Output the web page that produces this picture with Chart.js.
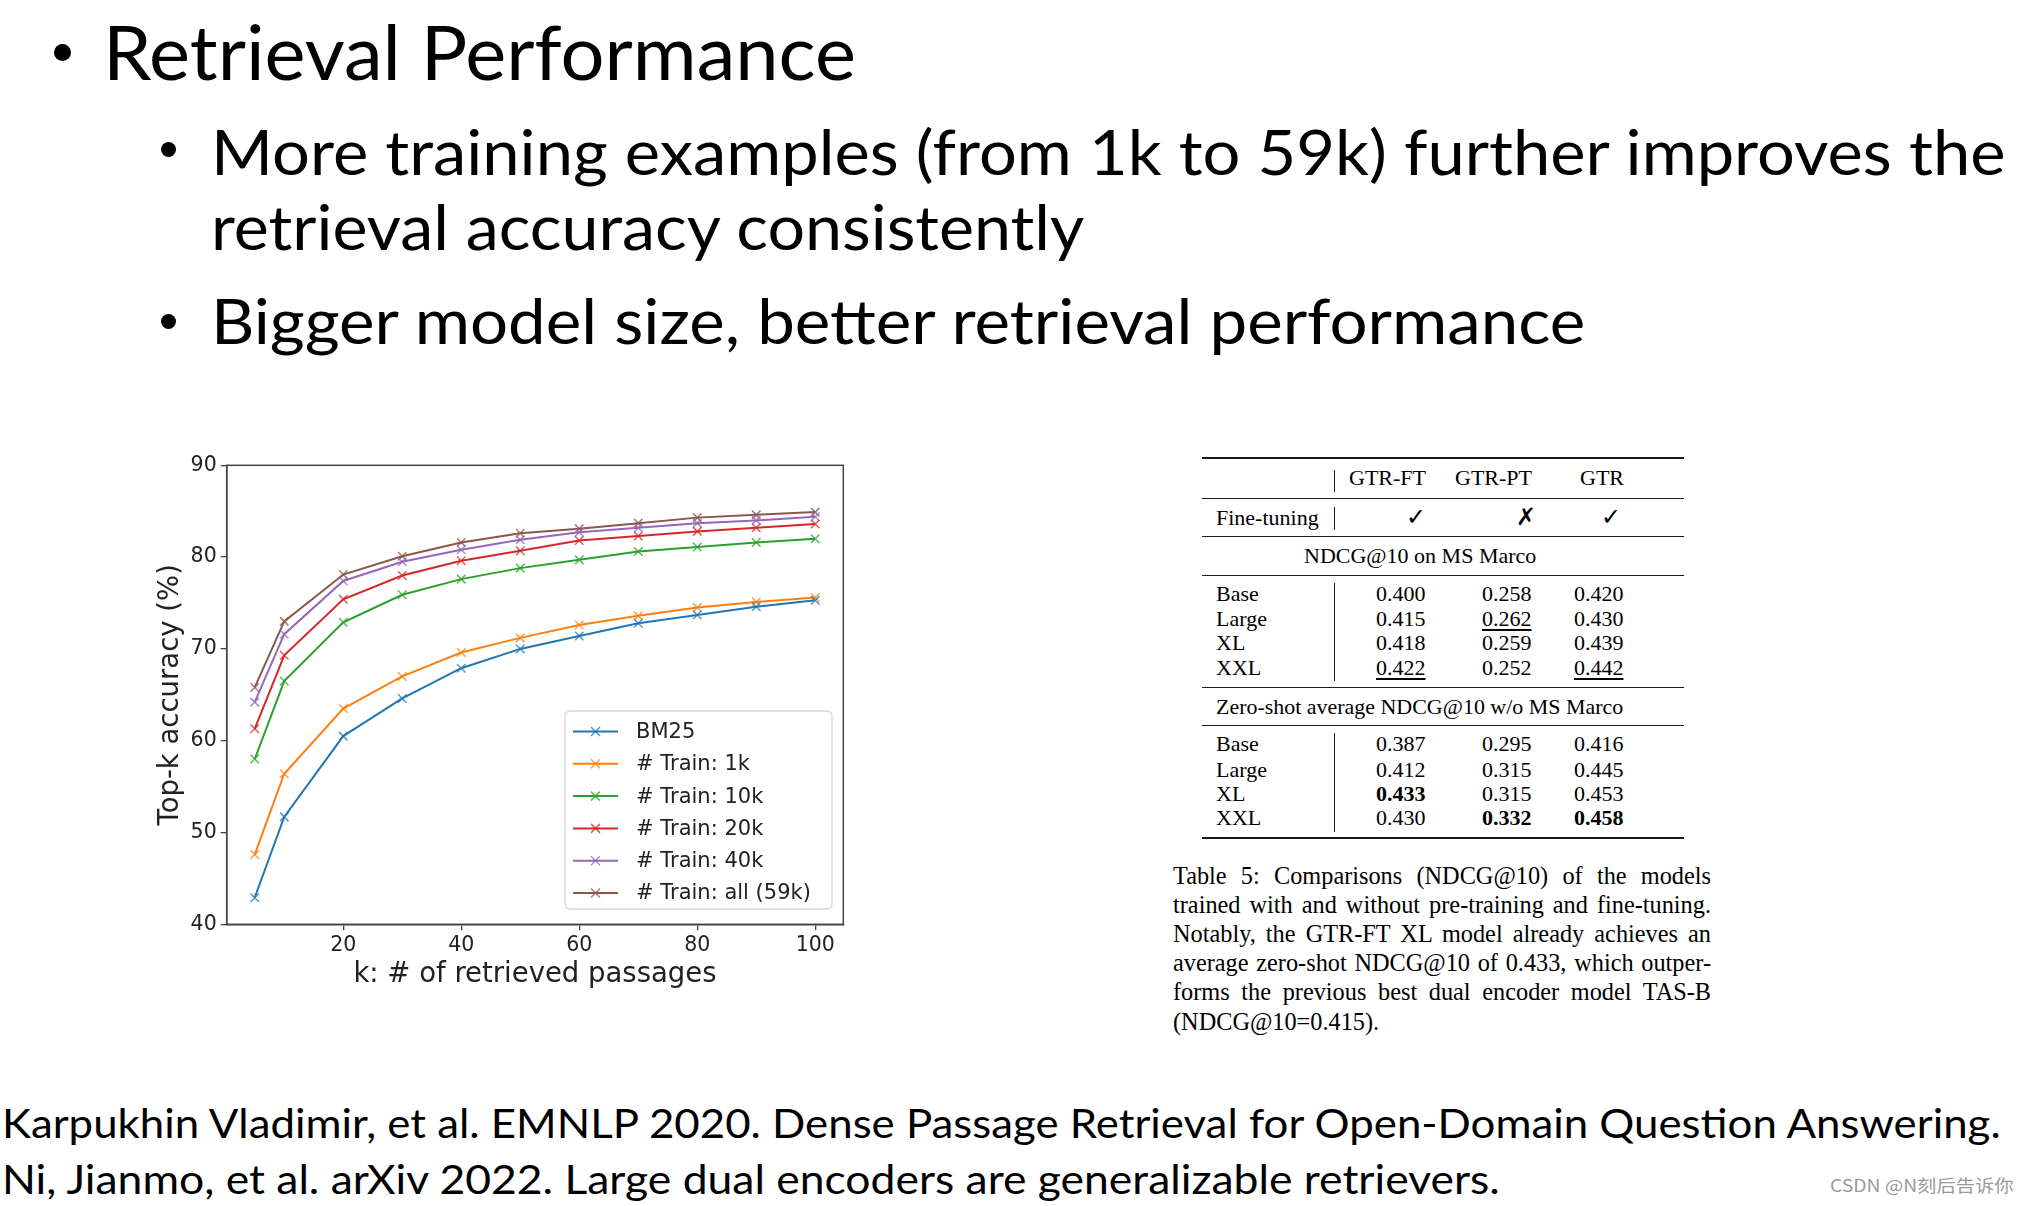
<!DOCTYPE html>
<html>
<head>
<meta charset="utf-8">
<script src="https://cdn.jsdelivr.net/npm/chart.js@4.4.1/dist/chart.umd.min.js"></script>
<style>
  html, body { margin: 0; padding: 0; background: #fff; }
  body { width: 2028px; height: 1206px; position: relative; overflow: hidden; }
  .t { position: absolute; white-space: nowrap; color: #000; transform-origin: 0 0; line-height: 1.2; }
  .m { display: inline-block; width: 0; height: 0; }
  .rule { position: absolute; background: #1a1a1a; }
  .dot { position: absolute; border-radius: 50%; background: #000; }
  #chartBox { position: absolute; left: 140px; top: 440px; width: 720px; height: 560px; }
</style>
</head>
<body>
<div id="chartBox"><canvas id="topk"></canvas></div>
<script>
// chart data
var kValues = [5, 10, 20, 30, 40, 50, 60, 70, 80, 90, 100];
var xTicks = [20, 40, 60, 80, 100];
var seriesNames = ['BM25', '# Train: 1k', '# Train: 10k', '# Train: 20k', '# Train: 40k', '# Train: all (59k)'];
var bm25     = [42.9, 51.7, 60.5, 64.6, 67.9, 70.0, 71.4, 72.8, 73.7, 74.6, 75.3];
var train1k  = [47.6, 56.4, 63.5, 67.0, 69.6, 71.2, 72.6, 73.6, 74.5, 75.1, 75.6];
var train10k = [58.0, 66.5, 72.9, 75.9, 77.6, 78.8, 79.7, 80.6, 81.1, 81.6, 82.0];
var train20k = [61.3, 69.3, 75.4, 78.0, 79.6, 80.7, 81.8, 82.3, 82.8, 83.2, 83.6];
var train40k = [64.2, 71.6, 77.4, 79.5, 80.8, 81.9, 82.7, 83.2, 83.7, 84.0, 84.4];
var trainAll = [65.8, 73.0, 78.1, 80.1, 81.6, 82.6, 83.1, 83.7, 84.3, 84.6, 84.9];
var colors = ['31,119,180', '255,127,14', '44,160,44', '214,39,40', '148,103,189', '140,86,75'];

// table data
var tableCols = ['GTR-FT', 'GTR-PT', 'GTR'];
var sizes = ['Base', 'Large', 'XL', 'XXL'];
var msMarco = [['0.400', '0.258', '0.420'], ['0.415', '0.262', '0.430'], ['0.418', '0.259', '0.439'], ['0.422', '0.252', '0.442']];
var zeroShot = [['0.387', '0.295', '0.416'], ['0.412', '0.315', '0.445'], ['0.433', '0.315', '0.453'], ['0.430', '0.332', '0.458']];
var underlined = ['1-1-1', '1-3-0', '1-3-2'];   // block-row-col
var bolded = ['2-2-0', '2-3-1', '2-3-2'];

var SANS = 'Lato, "Open Sans", sans-serif';
var SERIF = '"Liberation Serif", "DejaVu Serif", serif';

// put a line of text with its baseline at `base`
function put(str, x, base, o) {
  var d = document.createElement('div');
  d.className = 't';
  d.style.font = (o.bold ? '700 ' : '400 ') + o.size + 'px ' + o.font;
  if (o.color) d.style.color = o.color;
  var m = document.createElement('span');
  m.className = 'm';
  d.appendChild(m);
  var s = document.createElement('span');
  s.textContent = str;
  if (o.underline) { s.style.textDecoration = 'underline'; s.style.textUnderlineOffset = '3px'; }
  d.appendChild(s);
  document.body.appendChild(d);
  var w = d.offsetWidth;
  var sc = o.fit ? o.fit / w : 1;
  if (o.width) {
    // justified line: stretch the spaces, or squeeze if the line is too long
    if (w > o.width) { sc = o.width / w; d.style.width = w + 'px'; }
    else { d.style.width = o.width + 'px'; }
    d.style.textAlign = 'justify';
    d.style.textAlignLast = 'justify';
    w = o.width / sc;
  }
  var left = x;
  if (o.align === 'right') left = x - w * sc;
  if (o.align === 'center') left = x - w * sc / 2;
  d.style.left = left + 'px';
  d.style.top = (base - m.offsetTop) + 'px';
  if (sc !== 1) d.style.transform = 'scaleX(' + sc + ')';
  return d;
}

function rule(x, y, w, h) {
  var r = document.createElement('div');
  r.className = 'rule';
  r.style.left = x + 'px'; r.style.top = y + 'px';
  r.style.width = w + 'px'; r.style.height = h + 'px';
  document.body.appendChild(r);
}

function dot(cx, cy, dia) {
  var r = document.createElement('div');
  r.className = 'dot';
  r.style.left = (cx - dia / 2) + 'px'; r.style.top = (cy - dia / 2) + 'px';
  r.style.width = dia + 'px'; r.style.height = dia + 'px';
  document.body.appendChild(r);
}

// slide text
dot(62, 52, 17);
put('Retrieval Performance', 103, 80, {font: SANS, size: 76, fit: 753});
dot(168, 149, 15);
put('More training examples (from 1k to 59k) further improves the', 211, 175, {font: SANS, size: 62, fit: 1794});
put('retrieval accuracy consistently', 211, 250, {font: SANS, size: 62, fit: 873});
dot(168, 321, 15);
put('Bigger model size, better retrieval performance', 211, 344, {font: SANS, size: 62, fit: 1374});
put('Karpukhin Vladimir, et al. EMNLP 2020. Dense Passage Retrieval for Open-Domain Question Answering.', 2, 1138, {font: SANS, size: 40, fit: 1999});
put('Ni, Jianmo, et al. arXiv 2022. Large dual encoders are generalizable retrievers.', 2, 1194, {font: SANS, size: 40, fit: 1498});
put('CSDN @N刻后告诉你', 1830, 1192, {font: '"Noto Sans CJK SC", sans-serif', size: 17, fit: 184, color: '#9a9a9a'});

// table
var TL = 1202, TW = 482, colRight = [1426, 1532, 1624], fs = 22;
rule(TL, 457, TW, 2.2);
rule(TL, 497.8, TW, 1.2);
rule(TL, 536.2, TW, 1.2);
rule(TL, 574.5, TW, 1.2);
rule(TL, 686.5, TW, 1.2);
rule(TL, 725.2, TW, 1.2);
rule(TL, 836.6, TW, 2.2);
rule(1333.5, 470, 1.2, 22);
rule(1333.5, 507, 1.2, 23);
rule(1333.5, 583, 1.2, 98);
rule(1333.5, 733, 1.2, 99);
tableCols.forEach(function (c, i) { put(c, colRight[i], 485, {font: SERIF, size: fs, align: 'right'}); });
put('Fine-tuning', 1216, 524.5, {font: SERIF, size: fs});
put('✓', 1416, 524.5, {font: SERIF, size: 24, align: 'center'});
put('✗', 1526, 524.5, {font: SERIF, size: 24, align: 'center'});
put('✓', 1611, 524.5, {font: SERIF, size: 24, align: 'center'});
put('NDCG@10 on MS Marco', 1420, 563, {font: SERIF, size: fs, align: 'center'});
put('Zero-shot average NDCG@10 w/o MS Marco', 1216, 714, {font: SERIF, size: fs, fit: 407});
var blockBase = [[601, 626, 650, 675], [751, 776.5, 800.5, 825]];
[msMarco, zeroShot].forEach(function (block, b) {
  block.forEach(function (row, r) {
    put(sizes[r], 1216, blockBase[b][r], {font: SERIF, size: fs});
    row.forEach(function (v, c) {
      var key = (b + 1) + '-' + r + '-' + c;
      put(v, colRight[c], blockBase[b][r], {font: SERIF, size: fs, align: 'right',
        underline: underlined.indexOf(key) >= 0, bold: bolded.indexOf(key) >= 0});
    });
  });
});

// caption
var caption = [
  'Table 5: Comparisons (NDCG@10) of the models',
  'trained with and without pre-training and fine-tuning.',
  'Notably, the GTR-FT XL model already achieves an',
  'average zero-shot NDCG@10 of 0.433, which outper-',
  'forms the previous best dual encoder model TAS-B'
];
caption.forEach(function (line, i) {
  put(line, 1173, 883.5 + i * 29.2, {font: SERIF, size: 24.3, width: 538});
});
put('(NDCG@10=0.415).', 1173, 883.5 + 5 * 29.2, {font: SERIF, size: 24.3});

// chart
var allSeries = [bm25, train1k, train10k, train20k, train40k, trainAll];

var frame = {
  id: 'frame',
  afterDatasetsDraw: function (chart) {
    var a = chart.chartArea, ctx = chart.ctx;
    ctx.save();
    ctx.strokeStyle = '#444';
    ctx.lineWidth = 1.5;
    ctx.strokeRect(a.left, a.top, a.right - a.left, a.bottom - a.top);
    ctx.restore();
  }
};

// matplotlib-like legend in the lower right corner of the plot
var boxLegend = {
  id: 'boxLegend',
  afterDraw: function (chart) {
    var a = chart.chartArea, ctx = chart.ctx;
    var w = 267, h = 198;
    var x0 = a.right - 11.3 - w, y0 = a.bottom - 15.3 - h;
    ctx.save();
    ctx.beginPath();
    ctx.roundRect(x0, y0, w, h, 5);
    ctx.fillStyle = 'rgba(255,255,255,0.85)';
    ctx.fill();
    ctx.strokeStyle = '#d6d6d6';
    ctx.lineWidth = 1.3;
    ctx.stroke();
    ctx.font = '21px "DejaVu Sans"';
    ctx.textBaseline = 'middle';
    chart.data.datasets.forEach(function (ds, i) {
      var y = y0 + 20.5 + i * 32.3;
      ctx.strokeStyle = ds.borderColor;
      ctx.lineWidth = 2;
      ctx.beginPath();
      ctx.moveTo(x0 + 8, y); ctx.lineTo(x0 + 53, y); ctx.stroke();
      var cx = x0 + 30.5, r = 4.5;
      ctx.strokeStyle = ds.pointBorderColor;
      ctx.lineWidth = 1.5;
      ctx.beginPath();
      ctx.moveTo(cx - r, y - r); ctx.lineTo(cx + r, y + r);
      ctx.moveTo(cx - r, y + r); ctx.lineTo(cx + r, y - r);
      ctx.stroke();
      ctx.fillStyle = '#222';
      ctx.fillText(ds.label, x0 + 71, y + 1);
    });
    ctx.restore();
  }
};

var ctx = document.getElementById('topk').getContext('2d');
var topkChart = new Chart(ctx, {
  type: 'line',
  data: {
    labels: kValues,
    datasets: seriesNames.map(function (name, i) {
      return {
        label: name,
        data: kValues.map(function (k, j) { return {x: k, y: allSeries[i][j]}; }),
        borderColor: 'rgb(' + colors[i] + ')',
        borderWidth: 2,
        pointStyle: 'crossRot',
        pointRadius: 6,
        pointBorderWidth: 1.5,
        pointBorderColor: 'rgba(' + colors[i] + ',0.75)',
        pointBackgroundColor: 'rgba(' + colors[i] + ',0.75)',
        tension: 0,
        fill: false
      };
    })
  },
  options: {
    responsive: true,
    maintainAspectRatio: false,
    animation: false,
    layout: { padding: { left: 0, right: 16.7, top: 25.3, bottom: 0 } },
    plugins: { legend: { display: false }, tooltip: { enabled: false } },
    scales: {
      x: {
        type: 'linear',
        min: 0.25,
        max: 104.75,
        afterBuildTicks: function (s) { s.ticks = xTicks.map(function (v) { return {value: v}; }); },
        afterFit: function (s) { s.height = 75.7; },
        grid: { drawOnChartArea: false, tickLength: 6, color: '#444', lineWidth: 1.3 },
        border: { color: '#444', width: 1.5 },
        ticks: { font: { family: 'DejaVu Sans', size: 20.5 }, color: '#222', padding: 3, maxRotation: 0 },
        title: { display: true, text: 'k: # of retrieved passages', color: '#222',
                 font: { family: 'DejaVu Sans', size: 27.5, lineHeight: 1.2 }, padding: { top: 0, bottom: 9 } }
      },
      y: {
        min: 40,
        max: 90,
        afterFit: function (s) { s.width = 86.7; },
        grid: { drawOnChartArea: false, tickLength: 6, color: '#444', lineWidth: 1.3 },
        border: { color: '#444', width: 1.5 },
        ticks: { stepSize: 10, font: { family: 'DejaVu Sans', size: 20.5 }, color: '#222', padding: 4 },
        title: { display: true, text: 'Top-k accuracy (%)', color: '#222',
                 font: { family: 'DejaVu Sans', size: 27.5, lineHeight: 1.2 }, padding: { top: 14, bottom: 0 } }
      }
    }
  },
  plugins: [frame, boxLegend]
});
</script>
</body>
</html>
